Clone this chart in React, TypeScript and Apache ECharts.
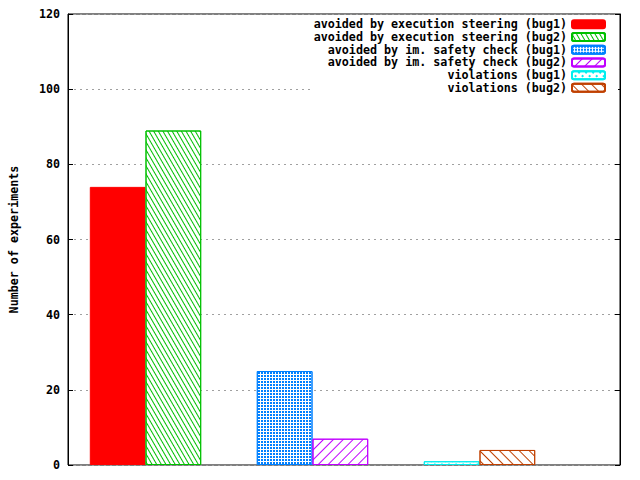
import React, { useEffect, useRef } from "react";
import * as echarts from "echarts";

const groups = ["avoided by execution steering", "avoided by im. safety check", "violations"];
const bugs = ["bug1", "bug2"];
const bug1Values = [74, 25, 1];
const bug2Values = [89, 7, 4];
const seriesColors = ["#ff0000", "#00c000", "#0080ff", "#c000ff", "#00eeee", "#c04000"];
const yTicks = { min: 0, max: 120, interval: 20 };
const yTitle = "Number of experiments";

const FONT = "'DejaVu Sans Mono', 'Liberation Mono', monospace";

const decals: any[] = [
  null,
  { symbol: "rect", symbolSize: 1, dashArrayX: [1, 0], dashArrayY: [1, 2.5], rotation: Math.PI / 3 },
  { symbol: "rect", symbolSize: 1, dashArrayX: [2, 1], dashArrayY: [2, 1], rotation: 0 },
  { symbol: "rect", symbolSize: 1, dashArrayX: [1, 0], dashArrayY: [1, 5.5], rotation: -Math.PI / 4 },
  { symbol: "rect", symbolSize: 1, dashArrayX: [2, 3], dashArrayY: [2, 3], rotation: Math.PI / 4 },
  { symbol: "rect", symbolSize: 1, dashArrayX: [1, 0], dashArrayY: [1, 5.5], rotation: Math.PI / 4 },
];

export default function App() {
  const ref = useRef<HTMLDivElement>(null);
  useEffect(() => {
    if (!ref.current) return;
    const chart = echarts.init(ref.current, null, { renderer: "svg" });
    const series: any[] = [];
    groups.forEach((g, gi) => {
      bugs.forEach((b, bi) => {
        const k = gi * 2 + bi;
        const values = bi === 0 ? bug1Values : bug2Values;
        const color = seriesColors[k];
        const d = decals[k];
        series.push({
          type: "bar",
          name: `${g} (${b})`,
          xAxisIndex: 1,
          yAxisIndex: 2,
          stack: b,
          barWidth: 55.7,
          barGap: "0%",
          data: groups.map((_, j) => (j === gi ? values[gi] : "-")),
          itemStyle: {
            color: d ? "#ffffff" : color,
            borderColor: color,
            borderWidth: 1,
            decal: d ? { ...d, color } : undefined,
          },
        });
      });
    });
    const axisFont = { fontFamily: FONT, fontWeight: "bold", fontSize: 11.7, color: "#000" };
    chart.setOption({
      animation: false,
      backgroundColor: "#ffffff",
      grid: [
        { left: 62, right: 20, top: 14, bottom: 15, show: true, borderColor: "#000", borderWidth: 1 },
        { left: 62, width: 501, top: 14, bottom: 15 },
      ],
      legend: {
        orient: "vertical",
        right: 22,
        top: 15,
        align: "right",
        padding: [3, 12, 3, 3],
        backgroundColor: "#ffffff",
        itemWidth: 33,
        itemHeight: 8,
        itemGap: 0,
        selectedMode: false,
        textStyle: { ...axisFont, lineHeight: 12.7 },
        data: series.map((s) => s.name),
      },
      xAxis: [
        {
          gridIndex: 0,
          type: "value",
          min: 0,
          max: 1,
          axisLabel: { show: false },
          axisTick: { show: false },
          splitLine: { show: false },
          axisLine: { show: false },
        },
        {
          gridIndex: 1,
          type: "category",
          data: groups,
          axisLabel: { show: false },
          axisTick: { show: false },
          splitLine: { show: false },
          axisLine: { show: false },
        },
      ],
      yAxis: [
        {
          gridIndex: 0,
          type: "value",
          min: yTicks.min,
          max: yTicks.max,
          interval: yTicks.interval,
          name: yTitle,
          nameLocation: "middle",
          nameGap: 48,
          nameTextStyle: axisFont,
          axisLine: { show: true, onZero: false, lineStyle: { color: "#000" } },
          axisTick: { show: true, inside: true, length: 5, lineStyle: { color: "#000" } },
          axisLabel: { ...axisFont, margin: 8 },
          splitLine: { show: true, lineStyle: { color: "#a0a0a0", type: [2, 4], width: 1 } },
        },
        {
          gridIndex: 0,
          type: "value",
          min: yTicks.min,
          max: yTicks.max,
          interval: yTicks.interval,
          position: "right",
          axisLine: { show: true, onZero: false, lineStyle: { color: "#000" } },
          axisTick: { show: true, inside: true, length: 5, lineStyle: { color: "#000" } },
          axisLabel: { show: false },
          splitLine: { show: false },
        },
        {
          gridIndex: 1,
          type: "value",
          min: yTicks.min,
          max: yTicks.max,
          interval: yTicks.interval,
          show: false,
          splitLine: { show: false },
        },
      ],
      series,
    });
    return () => chart.dispose();
  }, []);
  return <div ref={ref} style={{ position: "fixed", left: 0, top: 0, width: 640, height: 480 }} />;
}
